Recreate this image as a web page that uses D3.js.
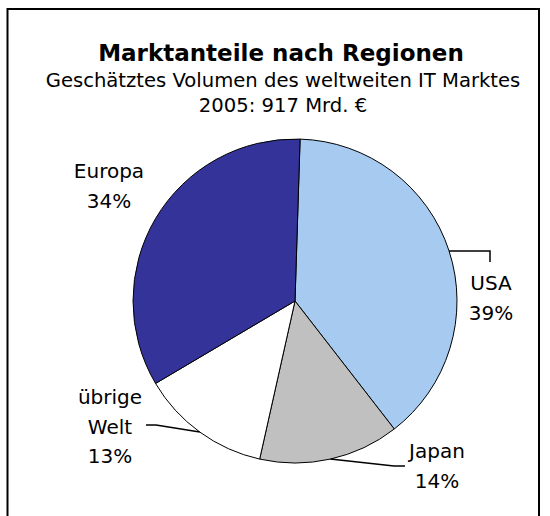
<!DOCTYPE html>
<html>
<head>
  <meta charset="utf-8">
  <title>Marktanteile nach Regionen</title>
  <script src="https://cdn.jsdelivr.net/npm/d3@7"></script>
  <style>
    body { margin: 0; background: #fff; }
    text { font-family: "DejaVu Sans", "Noto Sans", sans-serif; fill: #000; }
  </style>
</head>
<body>
  <script>
    // data
    var regions = ["USA", "Japan", "übrige Welt", "Europa"];
    var shares = [39, 14, 13, 34];
    var colors = ["#a6caf0", "#c0c0c0", "#ffffff", "#333399"];
    var title = "Marktanteile nach Regionen";
    var subtitle = ["Geschätztes Volumen des weltweiten IT Marktes", "2005: 917 Mrd. €"];

    var W = 550, H = 516;
    var cx = 295, cy = 301, R = 162;
    var rot = 1.8 * Math.PI / 180; // pie is turned a bit clockwise

    // label placement: where the text block sits (center x, first baseline) and leader elbow
    var labelPos = [
      { x: 491, y: 290, leader: [[490, 251], [490, 262]] },
      { x: 437, y: 458, leader: [[394, 466], [405, 466]] },
      { x: 110, y: 404, leader: [[156, 425], [146, 425]] },
      { x: 109, y: 178, leader: null }
    ];

    var svg = d3.select("body").append("svg")
      .attr("width", W)
      .attr("height", H);

    svg.append("rect").attr("width", W).attr("height", H).attr("fill", "#fff");

    // frame (left, top, right)
    svg.append("path")
      .attr("d", "M7.5,516 V9 H539 V516")
      .attr("fill", "none")
      .attr("stroke", "#000")
      .attr("stroke-width", 2);

    svg.append("text")
      .attr("x", 281).attr("y", 61)
      .attr("text-anchor", "middle")
      .attr("font-size", 23)
      .attr("font-weight", "bold")
      .text(title);

    svg.selectAll("text.sub").data(subtitle).enter().append("text")
      .attr("class", "sub")
      .attr("x", 283)
      .attr("y", function (d, i) { return 87 + i * 25; })
      .attr("text-anchor", "middle")
      .attr("font-size", 19.6)
      .text(function (d) { return d; });

    var pie = d3.pie().sort(null).value(function (d) { return d; })
      .startAngle(rot).endAngle(rot + 2 * Math.PI);
    var arcs = pie(shares);
    var arc = d3.arc().innerRadius(0).outerRadius(R);

    var g = svg.append("g").attr("transform", "translate(" + cx + "," + cy + ")");
    g.selectAll("path").data(arcs).enter().append("path")
      .attr("d", arc)
      .attr("fill", function (d, i) { return colors[i]; })
      .attr("stroke", "#000")
      .attr("stroke-width", 1);

    // leader lines start on the rim at each slice's middle angle
    var line = d3.line();
    arcs.forEach(function (a, i) {
      var lp = labelPos[i];
      if (!lp.leader) return;
      var m = (a.startAngle + a.endAngle) / 2;
      var p0 = [cx + R * Math.sin(m), cy - R * Math.cos(m)];
      svg.append("path")
        .attr("d", line([p0].concat(lp.leader)))
        .attr("fill", "none")
        .attr("stroke", "#000")
        .attr("stroke-width", 1.5);
    });

    // labels
    arcs.forEach(function (a, i) {
      var lp = labelPos[i];
      var lines = regions[i].split(" ").concat([shares[i] + "%"]);
      var t = svg.append("text")
        .attr("text-anchor", "middle")
        .attr("font-size", 20);
      lines.forEach(function (s, k) {
        t.append("tspan")
          .attr("x", lp.x)
          .attr("y", lp.y + k * 29.5)
          .text(s);
      });
    });
  </script>
</body>
</html>
